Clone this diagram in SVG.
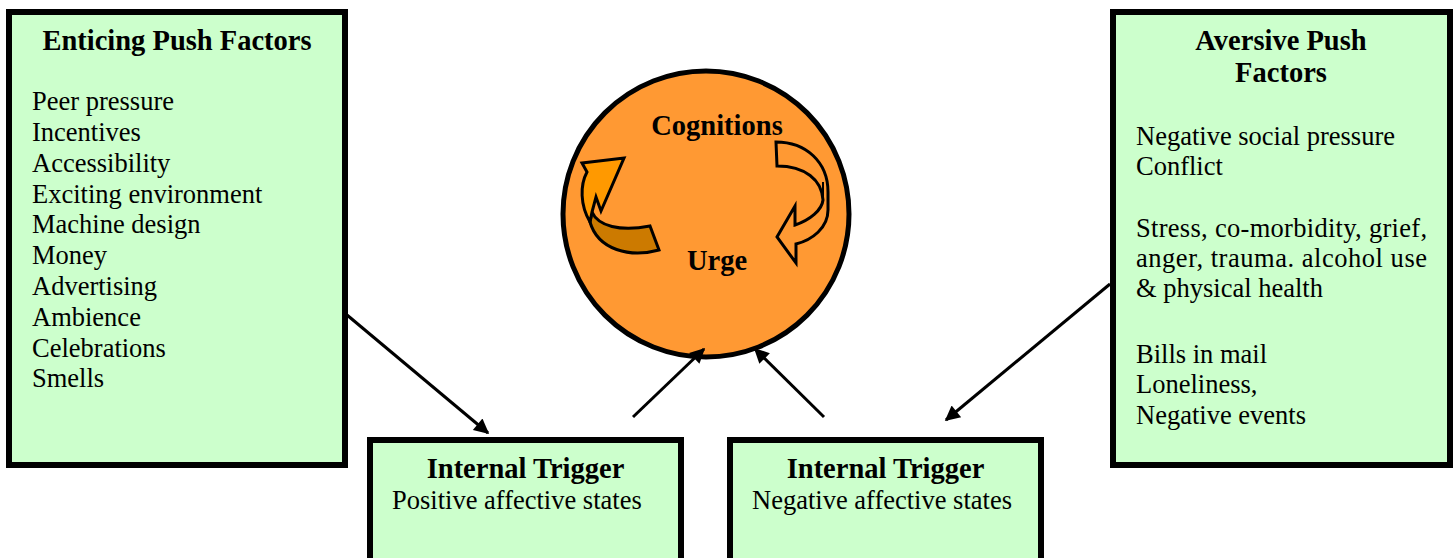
<svg xmlns="http://www.w3.org/2000/svg" width="1453" height="558" viewBox="0 0 1453 558">
<defs>
<style>
.box{fill:#ccffcc;stroke:#000;stroke-width:6}
.t{font-family:"Liberation Serif","Times New Roman",serif;font-size:26.5px;fill:#000}
.b{font-family:"Liberation Serif","Times New Roman",serif;font-size:28.5px;font-weight:bold;fill:#000;text-anchor:middle}
.conn{stroke:#000;stroke-width:3;fill:none;marker-end:url(#ah)}
</style>
<marker id="ah" viewBox="0 0 10 10" refX="9" refY="5" markerWidth="6" markerHeight="5" markerUnits="strokeWidth" orient="auto">
<path d="M0,0 L10,5 L0,10 Z" fill="#000"/>
</marker>
</defs>
<rect width="1453" height="558" fill="#fff"/>

<g id="enticing">
<rect class="box" x="9" y="12" width="336" height="453"/>
<text class="b" x="177" y="50">Enticing Push Factors</text>
<text class="t" x="32" y="110">Peer pressure</text>
<text class="t" x="32" y="141">Incentives</text>
<text class="t" x="32" y="172">Accessibility</text>
<text class="t" x="32" y="202.5">Exciting environment</text>
<text class="t" x="32" y="233">Machine design</text>
<text class="t" x="32" y="264">Money</text>
<text class="t" x="32" y="295">Advertising</text>
<text class="t" x="32" y="326">Ambience</text>
<text class="t" x="32" y="357">Celebrations</text>
<text class="t" x="32" y="387">Smells</text>
</g>

<g id="aversive">
<rect class="box" x="1113" y="12" width="337" height="453"/>
<text class="b" x="1281" y="50">Aversive Push</text>
<text class="b" x="1281" y="82">Factors</text>
<text class="t" x="1136" y="145">Negative social pressure</text>
<text class="t" x="1136" y="175">Conflict</text>
<text class="t" x="1136" y="237" textLength="291" lengthAdjust="spacing">Stress, co-morbidity, grief,</text>
<text class="t" x="1136" y="267" textLength="291" lengthAdjust="spacing">anger, trauma. alcohol use</text>
<text class="t" x="1136" y="297">&amp; physical health</text>
<text class="t" x="1136" y="363">Bills in mail</text>
<text class="t" x="1136" y="393">Loneliness,</text>
<text class="t" x="1136" y="424">Negative events</text>
</g>

<g id="trigger-positive">
<rect class="box" x="370" y="440" width="311" height="130"/>
<text class="b" x="525.5" y="478">Internal Trigger</text>
<text class="t" x="392" y="509">Positive affective states</text>
</g>

<g id="trigger-negative">
<rect class="box" x="730" y="440" width="311" height="130"/>
<text class="b" x="885.5" y="478">Internal Trigger</text>
<text class="t" x="752" y="509">Negative affective states</text>
</g>

<g id="cycle">
<circle cx="706" cy="214" r="143" fill="#ff9933" stroke="#000" stroke-width="5"/>
<text class="b" x="717" y="135">Cognitions</text>
<text class="b" x="717" y="270">Urge</text>
<path d="M592,212 C598,226 620,232 650,226 L659,250 C630,258 598,250 590,222 Z" fill="#cc7a00" stroke="#000" stroke-width="3" stroke-linejoin="miter"/>
<path d="M590,222 C580,205 580,185 587,172 L582,163 L624,158 L601,211 L596,197 L592,212 Z" fill="#ff9900" stroke="#000" stroke-width="3"/>
<path d="M776,142 C806,142 828,162 828,192 L828,210 C828,228 812,240 796,244 L796,263 L777,237 L795,206 L795,225 C810,220 822,210 823,200 C822,180 805,166 777,166 Z" fill="#ff9933" stroke="#000" stroke-width="3"/>
<path d="M823,200 L823,182" stroke="#000" stroke-width="2" fill="none"/>
</g>

<g id="connectors">
<line class="conn" x1="347" y1="315" x2="488" y2="433"/>
<line class="conn" x1="1110" y1="284" x2="946" y2="420"/>
<line class="conn" x1="633" y1="417" x2="704" y2="349"/>
<line class="conn" x1="824" y1="417" x2="755" y2="349"/>
</g>
</svg>
